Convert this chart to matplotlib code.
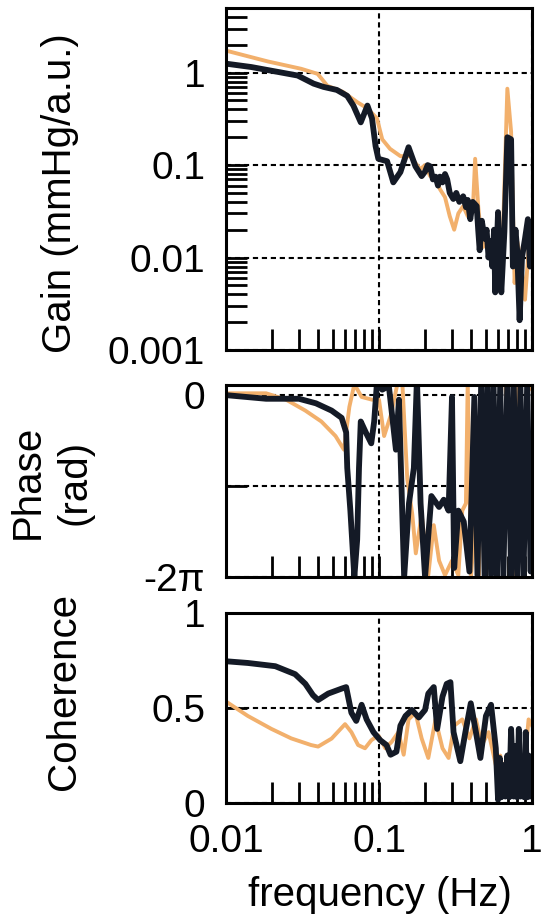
import matplotlib.pyplot as plt
import matplotlib.ticker as mticker
import numpy as np

plt.rcParams['font.family'] = ['Liberation Sans', 'DejaVu Sans']

orange = '#f2b06c'
dark = '#141a26'

# ---- gain (mmHg/a.u.) ----
gain_f_orange = [0.01, 0.0188, 0.031, 0.0397, 0.046, 0.058, 0.072, 0.084, 0.097, 0.105,
                 0.118, 0.138, 0.16, 0.186, 0.2, 0.216, 0.235, 0.25, 0.27, 0.29,
                 0.31, 0.33, 0.355, 0.38, 0.41, 0.425, 0.445, 0.46, 0.48, 0.5,
                 0.53, 0.56, 0.59, 0.64, 0.69, 0.73, 0.77, 0.8, 0.83, 0.87, 0.9, 0.95, 1.0]
gain_orange = [1.73, 1.32, 1.1, 0.97, 0.72, 0.62, 0.48, 0.41, 0.32, 0.19,
               0.15, 0.125, 0.125, 0.09, 0.1, 0.076, 0.07, 0.055, 0.045, 0.028,
               0.02, 0.03, 0.036, 0.028, 0.031, 0.117, 0.036, 0.02, 0.013, 0.018,
               0.011, 0.009, 0.0068, 0.011, 0.67, 0.23, 0.0053, 0.015, 0.011, 0.006, 0.0035, 0.012, 0.02]

gain_f_black = [0.01, 0.0146, 0.0294, 0.0374, 0.0435, 0.053, 0.062, 0.068, 0.076, 0.084,
                0.09, 0.095, 0.099, 0.113, 0.124, 0.138, 0.156, 0.173, 0.19, 0.2,
                0.208, 0.216, 0.225, 0.234, 0.243, 0.25, 0.26, 0.27, 0.279, 0.29,
                0.306, 0.32, 0.335, 0.355, 0.37, 0.38, 0.395, 0.41, 0.435, 0.445,
                0.455, 0.47, 0.49, 0.505, 0.52, 0.535, 0.55, 0.565, 0.575, 0.6,
                0.615, 0.63, 0.66, 0.69, 0.73, 0.75, 0.78, 0.8, 0.83, 0.86, 0.9, 0.94, 0.97, 1.0]
gain_black = [1.25, 1.15, 0.93, 0.76, 0.7, 0.65, 0.56, 0.44, 0.29, 0.44,
              0.32, 0.16, 0.117, 0.11, 0.065, 0.084, 0.156, 0.097, 0.076, 0.085,
              0.1, 0.097, 0.07, 0.075, 0.06, 0.075, 0.065, 0.08, 0.07, 0.05,
              0.043, 0.05, 0.04, 0.046, 0.035, 0.042, 0.026, 0.04, 0.036, 0.02,
              0.012, 0.025, 0.016, 0.02, 0.01, 0.015, 0.008, 0.02, 0.0042, 0.031,
              0.01, 0.0042, 0.019, 0.2, 0.19, 0.008, 0.02, 0.012, 0.0021, 0.01, 0.016, 0.026, 0.008, 0.011]

# ---- phase (in units of pi) ----
phase_f_orange = [0.01, 0.0183, 0.0247, 0.033, 0.042, 0.052, 0.059, 0.064, 0.069, 0.077,
                  0.09, 0.1, 0.108, 0.12, 0.131, 0.142, 0.153, 0.165, 0.174, 0.19,
                  0.21, 0.228, 0.247, 0.27, 0.3, 0.33, 0.35, 0.37, 0.38, 0.4,
                  0.43, 0.45, 0.47, 0.52, 0.61, 0.67, 0.76, 0.8, 0.86, 0.93, 1.0]
phase_orange = [0.02, 0.02, -0.05, -0.17, -0.29, -0.45, -0.6, -0.13, 0.12, -0.02,
                -0.05, -0.05, -0.45, -0.21, 0.1, 0.14, -0.92, -1.31, -1.74, -1.31,
                -1.98, -1.43, -1.82, -1.98, -1.82, -1.98, -1.27, -1.19, 0.16, -1.98,
                -1.27, -1.98, 0.14, 0.18, 0.14, 0.14, -1.98, 0.1, -1.58, 0.14, 0.06]

phase_f_black = [0.01, 0.0183, 0.03, 0.0387, 0.049, 0.057, 0.061, 0.062, 0.065, 0.069,
                 0.072, 0.074, 0.076, 0.082, 0.089, 0.093, 0.097, 0.105, 0.116, 0.129,
                 0.135, 0.146, 0.157, 0.169, 0.177, 0.187, 0.2, 0.22, 0.247, 0.265,
                 0.285, 0.3, 0.31, 0.33, 0.358, 0.39, 0.42, 0.44, 0.465, 0.49,
                 0.51, 0.54, 0.56, 0.59, 0.62, 0.65, 0.69, 0.73, 0.76, 0.8,
                 0.84, 0.88, 0.93, 0.98, 1.0]
phase_black = [0.0, -0.04, -0.04, -0.09, -0.17, -0.25, -0.41, -0.8, -1.27, -2.0,
               -1.59, -0.8, -0.29, -0.41, -0.53, -0.29, 0.14, 0.06, 0.1, -0.6,
               -0.05, -2.0, -1.19, -0.8, 0.18, -1.19, -2.0, -1.11, -1.23, -1.15,
               -1.27, -0.02, -1.9, -1.27, -1.39, -1.94, -0.02, -1.98, 0.1, -1.98,
               0.14, -1.98, 0.18, -2.0, 0.14, -2.0, 0.18, -2.0, 0.14, -2.0,
               0.1, -2.0, 0.14, -1.94, -0.6]

# ---- coherence ----
coh_f_orange = [0.01, 0.0139, 0.0198, 0.0267, 0.036, 0.04, 0.049, 0.06, 0.066, 0.073,
                0.081, 0.089, 0.099, 0.11, 0.121, 0.134, 0.145, 0.156, 0.173, 0.19,
                0.21, 0.234, 0.26, 0.285, 0.31, 0.35, 0.39, 0.43, 0.47, 0.52,
                0.58, 0.62, 0.67, 0.72, 0.77, 0.82, 0.88, 0.95, 1.0]
coh_orange = [0.534, 0.458, 0.39, 0.34, 0.305, 0.297, 0.339, 0.415, 0.373, 0.305,
              0.288, 0.33, 0.356, 0.288, 0.322, 0.373, 0.254, 0.44, 0.475, 0.34,
              0.237, 0.44, 0.288, 0.237, 0.407, 0.44, 0.34, 0.44, 0.305, 0.373,
              0.2, 0.25, 0.1, 0.2, 0.08, 0.237, 0.15, 0.44, 0.407]

coh_f_black = [0.01, 0.0139, 0.021, 0.0283, 0.033, 0.037, 0.04, 0.0466, 0.057, 0.061,
               0.066, 0.071, 0.077, 0.083, 0.092, 0.102, 0.112, 0.119, 0.13, 0.138,
               0.149, 0.164, 0.182, 0.2, 0.21, 0.228, 0.24, 0.26, 0.277, 0.293,
               0.307, 0.34, 0.367, 0.398, 0.43, 0.46, 0.5, 0.54, 0.58, 0.6,
               0.615, 0.63, 0.65, 0.67, 0.69, 0.71, 0.73, 0.76, 0.78, 0.8,
               0.82, 0.84, 0.86, 0.89, 0.91, 0.93, 0.95, 0.97, 1.0]
coh_black = [0.746, 0.737, 0.72, 0.678, 0.627, 0.568, 0.542, 0.576, 0.602, 0.61,
             0.475, 0.432, 0.517, 0.44, 0.373, 0.33, 0.305, 0.254, 0.27, 0.407,
             0.458, 0.49, 0.45, 0.49, 0.576, 0.61, 0.39, 0.56, 0.627, 0.636,
             0.373, 0.22, 0.373, 0.525, 0.373, 0.237, 0.458, 0.517, 0.288, 0.017,
             0.237, 0.03, 0.2, 0.034, 0.25, 0.03, 0.39, 0.034, 0.3, 0.03,
             0.39, 0.034, 0.2, 0.03, 0.373, 0.03, 0.25, 0.034, 0.2]

W, H = 542, 924
fig = plt.figure(figsize=(W / 100, H / 100), dpi=100)
fig.patch.set_facecolor('white')


def box(l, t, r, b):
    return [l / W, 1 - b / H, (r - l) / W, (b - t) / H]


ax1 = fig.add_axes(box(226, 8, 532, 350))
ax2 = fig.add_axes(box(226, 385, 532, 577))
ax3 = fig.add_axes(box(226, 613, 532, 803))

for ax in (ax1, ax2, ax3):
    ax.set_xscale('log')
    ax.set_xlim(0.01, 1)
    ax.xaxis.set_major_locator(mticker.FixedLocator([0.01, 0.1, 1]))
    ax.xaxis.set_minor_locator(mticker.LogLocator(base=10, subs=np.arange(2, 10)))
    ax.xaxis.set_minor_formatter(mticker.NullFormatter())
    ax.tick_params(which='both', direction='in', length=15, width=2,
                   top=False, right=False, labelsize=28, pad=15)
    ax.grid(True, which='major', color='black', linestyle=(0, (2.5, 1.8)), linewidth=1.5)
    for s in ax.spines.values():
        s.set_linewidth(2.2)

ax1.plot(gain_f_orange, gain_orange, color=orange, lw=2.8)
ax1.plot(gain_f_black, gain_black, color=dark, lw=4.2)
ax1.set_yscale('log')
ax1.set_ylim(0.001, 5)
ax1.yaxis.set_major_locator(mticker.FixedLocator([0.001, 0.01, 0.1, 1]))
ax1.yaxis.set_major_formatter(mticker.FixedFormatter(['0.001', '0.01', '0.1', '1']))
ax1.yaxis.set_minor_locator(mticker.LogLocator(base=10, subs=np.arange(2, 10)))
ax1.yaxis.set_minor_formatter(mticker.NullFormatter())
ax1.set_xticklabels([])

ax2.plot(phase_f_orange, np.array(phase_orange) * np.pi, color=orange, lw=2.8)
ax2.plot(phase_f_black, np.array(phase_black) * np.pi, color=dark, lw=4.2)
ax2.set_ylim(-2 * np.pi, 0.35)
ax2.set_yticks([0, -np.pi, -2 * np.pi])
ax2.set_yticklabels(['0', '', '-2π'])
ax2.set_xticklabels([])

ax3.plot(coh_f_orange, coh_orange, color=orange, lw=2.8)
ax3.plot(coh_f_black, coh_black, color=dark, lw=4.2)
ax3.set_ylim(0, 1)
ax3.set_yticks([0, 0.5, 1])
ax3.set_yticklabels(['0', '0.5', '1'])
ax3.set_xticklabels(['0.01', '0.1', '1'])

fig.text(60 / W, 1 - 193 / H, 'Gain (mmHg/a.u.)', rotation=90, fontsize=29,
         ha='center', va='center')
fig.text(28 / W, 1 - 482 / H, 'Phase', rotation=90, fontsize=29, ha='center', va='center')
fig.text(75 / W, 1 - 482 / H, '(rad)', rotation=90, fontsize=29, ha='center', va='center')
fig.text(64 / W, 1 - 691 / H, 'Coherence', rotation=90, fontsize=29, ha='center', va='center')
fig.text(380 / W, 1 - 895 / H, 'frequency (Hz)', fontsize=29, ha='center', va='center')

fig.savefig('out.png', dpi=100)
